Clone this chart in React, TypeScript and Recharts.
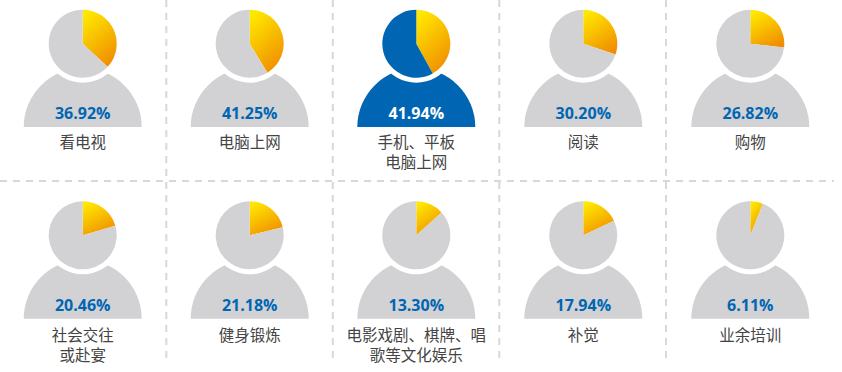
import React from "react";
import { PieChart, Pie, Cell } from "recharts";

const categories = [
  ["看电视"], ["电脑上网"], ["手机、平板", "电脑上网"], ["阅读"], ["购物"],
  ["社会交往", "或赴宴"], ["健身锻炼"], ["电影戏剧、棋牌、唱", "歌等文化娱乐"], ["补觉"], ["业余培训"],
];
const shares = [36.92, 41.25, 41.94, 30.2, 26.82, 20.46, 21.18, 13.3, 17.94, 6.11];
const highlighted = 2;

const colX = [82.7, 249.7, 416.3, 583.3, 750.3];
const rowY = [43.7, 235.3];
const valueY = [119, 311.4];
const labelY = [148, 341];
const BODY_DY = 83.4;
const GRAY = "#d2d2d4";
const BLUE = "#0066b3";
const FONT = "'Noto Sans CJK SC', sans-serif";
const NUM_FONT = "'Open Sans', sans-serif";

const pos = (index: number) => ({
  cx: colX[index % 5],
  cy: rowY[Math.floor(index / 5)],
  row: Math.floor(index / 5),
});

function Person({ index }: { index: number }) {
  const { cx, cy } = pos(index);
  const main = index === highlighted ? BLUE : GRAY;
  const share = shares[index];
  return (
    <>
      <Pie data={[{ v: 1 }]} dataKey="v" cx={cx} cy={cy + BODY_DY} innerRadius={0} outerRadius={59}
        startAngle={180} endAngle={0} fill={main} stroke="none" isAnimationActive={false} />
      <Pie data={[{ v: 1 }]} dataKey="v" cx={cx} cy={cy} innerRadius={0} outerRadius={39}
        startAngle={0} endAngle={360} fill="#ffffff" stroke="none" isAnimationActive={false} />
      <Pie data={[{ v: share }, { v: 100 - share }]} dataKey="v" cx={cx} cy={cy} innerRadius={0} outerRadius={34}
        startAngle={90} endAngle={-270} stroke="none" isAnimationActive={false}>
        <Cell fill="url(#sliceGrad)" />
        <Cell fill={main} />
      </Pie>
    </>
  );
}

export default function App() {
  return (
    <div style={{ position: "absolute", left: 0, top: 0, width: 842, height: 372, background: "#fff" }}>
      <PieChart width={842} height={372} margin={{ top: 0, right: 0, bottom: 0, left: 0 }}>
        <defs>
          <linearGradient id="sliceGrad" x1="0.25" y1="0" x2="0.75" y2="1">
            <stop offset="0%" stopColor="#ffe800" />
            <stop offset="100%" stopColor="#f08c00" />
          </linearGradient>
        </defs>
        {[166.3, 332.8, 499.3, 666].map((x) => (
          <line key={x} x1={x} x2={x} y1={0} y2={361} stroke="#d8d8d8" strokeWidth={2} strokeDasharray="7 6" />
        ))}
        <line x1={0} x2={834} y1={181} y2={181} stroke="#d8d8d8" strokeWidth={2} strokeDasharray="7 6" />
        {shares.map((_, i) => <Person key={i} index={i} />)}
      </PieChart>
      <svg width={842} height={372} style={{ position: "absolute", left: 0, top: 0, pointerEvents: "none" }}>
        {shares.map((share, i) => {
          const { cx, row } = pos(i);
          return (
            <g key={i}>
              <text x={cx} y={valueY[row]} textAnchor="middle" fontFamily={NUM_FONT} fontWeight={700} fontSize={16}
                fill={i === highlighted ? "#ffffff" : BLUE}>{share.toFixed(2)}%</text>
              {categories[i].map((l, j) => (
                <text key={j} x={cx} y={labelY[row] + j * 20} textAnchor="middle" fontFamily={FONT} fontSize={15.5} fill="#444444">{l}</text>
              ))}
            </g>
          );
        })}
      </svg>
    </div>
  );
}
